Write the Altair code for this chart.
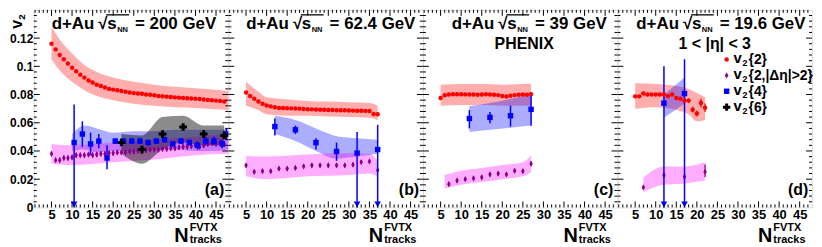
import altair as alt
import pandas as pd

FONT = "Liberation Sans"
W, H = 196, 199
XDOM = [0.7, 48.0]
YDOM = [0.0, 0.14]

# ---------------- (a) d+Au 200 GeV ----------------
a_red_n = [5, 6, 7, 8, 9, 10, 11, 12, 13, 14, 15, 16, 17, 18, 19, 20, 21, 22, 23, 24, 25, 26,
           27, 28, 29, 30, 31, 32, 33, 34, 35, 36, 37, 38, 39, 40, 41, 42, 43, 44, 45, 46, 47]
a_red_v = [0.116, 0.112, 0.108, 0.105, 0.102, 0.099, 0.0965, 0.094, 0.092, 0.090, 0.0885, 0.087,
           0.086, 0.085, 0.084, 0.0835, 0.083, 0.0825, 0.082, 0.0815, 0.081, 0.0808, 0.0805, 0.080,
           0.0798, 0.0795, 0.079, 0.0788, 0.0785, 0.0782, 0.078, 0.0778, 0.0776, 0.0774, 0.0772,
           0.077, 0.0768, 0.0765, 0.0762, 0.076, 0.0757, 0.0755, 0.075]
a_red_band_n = [5, 7, 10, 13, 16, 20, 25, 30, 35, 40, 48]
a_red_band_hi = [0.128, 0.119, 0.109, 0.101, 0.096, 0.092, 0.089, 0.087, 0.0855, 0.0845, 0.0825]
a_red_band_lo = [0.105, 0.097, 0.089, 0.083, 0.079, 0.076, 0.0735, 0.072, 0.071, 0.0705, 0.069]

a_mag_n = a_red_n
a_mag_v = [0.038, 0.0335, 0.0335, 0.035, 0.035, 0.0355, 0.037, 0.037, 0.037, 0.0375, 0.037,
           0.0375, 0.038, 0.038, 0.0385, 0.0385, 0.039, 0.039, 0.039, 0.0395, 0.0395, 0.040,
           0.040, 0.0405, 0.041, 0.041, 0.041, 0.0415, 0.0415, 0.042, 0.042, 0.0425, 0.043,
           0.043, 0.0435, 0.044, 0.043, 0.044, 0.045, 0.0455, 0.045, 0.046, 0.045]
a_mag_band_n = [5, 10, 20, 30, 40, 48]
a_mag_band_hi = [0.045, 0.044, 0.046, 0.048, 0.050, 0.052]
a_mag_band_lo = [0.031, 0.030, 0.032, 0.034, 0.037, 0.038]

a_blue_n = [10.5, 12.5, 14.5, 16.5, 18.5, 20.5, 22.5, 24.5, 26.5, 28.5, 30.5, 32.5, 34.5,
            36.5, 38.5, 40.5, 42.5, 44.5, 46.5, 47.5]
a_blue_v = [0.046, 0.052, 0.045, 0.047, 0.035, 0.047, 0.047, 0.047, 0.047, 0.046, 0.047,
            0.048, 0.045, 0.047, 0.046, 0.044, 0.047, 0.047, 0.045, 0.052]
a_blue_lo = [0.0, 0.043, 0.037, 0.042, 0.027, 0.045, 0.045, 0.045, 0.045, 0.044, 0.045,
             0.046, 0.043, 0.045, 0.044, 0.041, 0.044, 0.044, 0.042, 0.048]
a_blue_hi = [0.073, 0.061, 0.053, 0.052, 0.044, 0.049, 0.049, 0.049, 0.049, 0.048, 0.049,
             0.050, 0.047, 0.049, 0.048, 0.047, 0.050, 0.050, 0.048, 0.056]
a_blue_band_n = [10, 13, 16, 20, 25, 30, 35, 40, 45, 48]
a_blue_band_hi = [0.052, 0.058, 0.056, 0.053, 0.054, 0.054, 0.055, 0.055, 0.055, 0.056]
a_blue_band_lo = [0.040, 0.041, 0.039, 0.040, 0.040, 0.041, 0.041, 0.040, 0.040, 0.041]
a_blue_arrow = [10.5]

a_blk_n = [22, 27, 32, 37, 42, 47]
a_blk_v = [0.046, 0.041, 0.052, 0.057, 0.052, 0.051]
a_gray_band_hi = [0.052, 0.051, 0.064, 0.065, 0.058, 0.058]
a_gray_band_lo = [0.038, 0.031, 0.041, 0.046, 0.044, 0.044]

# ---------------- (b) d+Au 62.4 GeV ----------------
b_red_n = [5, 6, 7, 8, 9, 10, 11, 12, 13, 14, 15, 16, 17, 18, 19, 20, 21, 22, 23, 24, 25, 26,
           27, 28, 29, 30, 31, 32, 33, 34, 35, 36, 37]
b_red_v = [0.0814, 0.079, 0.077, 0.075, 0.0735, 0.0722, 0.0716, 0.071, 0.0705, 0.0704, 0.0703,
           0.0702, 0.0701, 0.070, 0.0698, 0.0696, 0.0695, 0.0694, 0.0693, 0.0692, 0.0691, 0.069,
           0.0689, 0.0688, 0.0688, 0.0687, 0.0686, 0.0685, 0.0685, 0.0684, 0.0683, 0.0662, 0.066]
b_red_band_n = [5, 8, 10, 15, 20, 25, 30, 35, 37]
b_red_band_hi = [0.089, 0.082, 0.078, 0.0765, 0.0755, 0.075, 0.0745, 0.074, 0.072]
b_red_band_lo = [0.072, 0.069, 0.066, 0.065, 0.065, 0.0645, 0.064, 0.0635, 0.062]

b_mag_n = [5, 7, 9, 11, 13, 15, 17, 19, 21, 23, 25, 27, 29, 31, 33, 35, 37]
b_mag_v = [0.0298, 0.0252, 0.0257, 0.0257, 0.0275, 0.0275, 0.028, 0.0291, 0.0298, 0.0298,
           0.0298, 0.0298, 0.0298, 0.0303, 0.0321, 0.0326, 0.0264]
b_mag_band_n = [5, 10, 20, 30, 35, 37]
b_mag_band_hi = [0.0365, 0.036, 0.0375, 0.0385, 0.038, 0.033]
b_mag_band_lo = [0.022, 0.020, 0.022, 0.023, 0.024, 0.022]

b_blue_n = [12, 17, 22, 27, 32, 37]
b_blue_v = [0.0573, 0.055, 0.0459, 0.0397, 0.0385, 0.041]
b_blue_lo = [0.051, 0.052, 0.041, 0.033, 0.0, 0.0]
b_blue_hi = [0.063, 0.058, 0.049, 0.046, 0.0535, 0.0585]
b_blue_band_n = [12, 17, 22, 27, 32, 37]
b_blue_band_hi = [0.065, 0.062, 0.056, 0.0505, 0.049, 0.048]
b_blue_band_lo = [0.052, 0.047, 0.040, 0.0345, 0.036, 0.038]
b_blue_arrow = [32, 37]

# ---------------- (c) d+Au 39 GeV ----------------
c_red_n = [5, 6, 7, 8, 9, 10, 11, 12, 13, 14, 15, 16, 17, 18, 19, 20, 21, 22, 23, 24, 25, 26, 27]
c_red_v = [0.0775, 0.0795, 0.080, 0.0802, 0.0802, 0.0802, 0.0801, 0.080, 0.080, 0.0799, 0.080,
           0.0802, 0.080, 0.0798, 0.0796, 0.079, 0.0786, 0.0792, 0.0796, 0.0798, 0.080, 0.0798,
           0.0803]
c_red_band_n = [5, 10, 15, 20, 25, 27]
c_red_band_hi = [0.087, 0.0875, 0.0875, 0.087, 0.0875, 0.0876]
c_red_band_lo = [0.072, 0.0725, 0.0725, 0.072, 0.072, 0.072]

c_mag_n = [7, 9, 11, 13, 15, 17, 19, 21, 23, 25, 27]
c_mag_v = [0.0165, 0.019, 0.020, 0.0206, 0.0213, 0.0234, 0.024, 0.0234, 0.0259, 0.0257, 0.031]
c_mag_band_n = [6, 10, 15, 20, 25, 27]
c_mag_band_hi = [0.023, 0.026, 0.028, 0.030, 0.032, 0.037]
c_mag_band_lo = [0.0135, 0.016, 0.018, 0.020, 0.022, 0.025]

c_blue_n = [12, 17, 22, 27]
c_blue_v = [0.063, 0.0638, 0.065, 0.0695]
c_blue_lo = [0.056, 0.0596, 0.0573, 0.0578]
c_blue_hi = [0.069, 0.0677, 0.0722, 0.080]
c_blue_band_n = [12, 17, 22, 27]
c_blue_band_hi = [0.0718, 0.074, 0.077, 0.080]
c_blue_band_lo = [0.0534, 0.055, 0.0565, 0.058]

# ---------------- (d) d+Au 19.6 GeV ----------------
d_red_n = [5, 6, 7, 8, 9, 10, 11, 12, 13, 14, 15, 16, 17, 18, 19, 20, 21, 22]
d_red_v = [0.0787, 0.0787, 0.0807, 0.080, 0.080, 0.080, 0.080, 0.080, 0.079, 0.080, 0.0775,
           0.077, 0.0757, 0.0757, 0.0693, 0.0665, 0.074, 0.0706]
d_red_err = [0.001, 0.001, 0.001, 0.001, 0.001, 0.001, 0.001, 0.001, 0.001, 0.001, 0.0012,
             0.0012, 0.0015, 0.0015, 0.002, 0.002, 0.003, 0.003]
d_red_band_n = [5, 10, 15, 18, 20, 22]
d_red_band_hi = [0.088, 0.0875, 0.086, 0.084, 0.081, 0.078]
d_red_band_lo = [0.070, 0.071, 0.069, 0.066, 0.061, 0.062]

d_mag_n = [7, 12, 17, 22]
d_mag_v = [0.0142, 0.0229, 0.0218, 0.0252]
d_mag_lo = [0.0132, 0.0214, 0.0203, 0.0215]
d_mag_hi = [0.0152, 0.0244, 0.0233, 0.0305]
d_mag_band_n = [7, 12, 17, 22]
d_mag_band_hi = [0.021, 0.029, 0.029, 0.032]
d_mag_band_lo = [0.011, 0.016, 0.017, 0.019]

d_blue_n = [12, 17]
d_blue_v = [0.0739, 0.0807]
d_blue_lo = [0.0, 0.0]
d_blue_hi = [0.100, 0.105]
d_blue_band_n = [12, 17]
d_blue_band_hi = [0.080, 0.092]
d_blue_band_lo = [0.0635, 0.0734]
d_blue_arrow = [12, 17]

energies = ["= 200 GeV", "= 62.4 GeV", "= 39 GeV", "= 19.6 GeV"]
panel_tags = ["(a)", "(b)", "(c)", "(d)"]
header_x0 = [18, 18, 29, 19]
legend_rest = ["{2}", "{2,|Δη|>2}", "{4}", "{6}"]

x_major = [5, 10, 15, 20, 25, 30, 35, 40, 45]
x_minor = [i for i in range(1, 48) if i % 5 != 0]
y_major = [0.02, 0.04, 0.06, 0.08, 0.10, 0.12]
y_minor = [round(0.004 * i, 3) for i in range(1, 35) if i % 5 != 0]

# ---------------- styles ----------------
RED = "#ff0000"
PURPLE = "#8b008b"
BLUE = "#0000ff"
DIAMOND = "M0,-1L0.55,0L0,1L-0.55,0Z"
ONE = pd.DataFrame({"k": [0]})

xscale = alt.Scale(domain=XDOM, nice=False, zero=False)
yscale = alt.Scale(domain=YDOM, nice=False, zero=False)
xaxis = alt.Axis(values=x_major, title=None, ticks=False, domain=False, grid=False,
                 labelFont=FONT, labelFontWeight="bold", labelFontSize=13, labelColor="black",
                 labelPadding=1, labelOverlap=False, labelFlush=False)
yaxis = alt.Axis(values=[0, 0.02, 0.04, 0.06, 0.08, 0.1, 0.12], format=".2~f", title=None,
                 ticks=False, domain=False, grid=False, labelFont=FONT, labelFontWeight="bold",
                 labelFontSize=12, labelColor="black", labelPadding=1, labelOverlap=False,
                 labelFlush=False)


def make_panel(i, series):
    ya = yaxis if i == 0 else None

    def X(f):
        return alt.X(f, type="quantitative", scale=xscale, axis=xaxis)

    def Y(f):
        return alt.Y(f, type="quantitative", scale=yscale, axis=ya)

    def band(n, lo, hi, color, op):
        df = pd.DataFrame({"n": n, "lo": lo, "hi": hi})
        return alt.Chart(df).mark_area(color=color, opacity=op, interpolate="monotone").encode(
            x=X("n"), y=Y("lo"), y2=alt.Y2("hi"))

    def errbar(n, lo, hi, color, sw=1.5):
        df = pd.DataFrame({"n": n, "lo": lo, "hi": hi})
        return alt.Chart(df).mark_rule(color=color, strokeWidth=sw).encode(
            x=X("n"), y=Y("lo"), y2=alt.Y2("hi"))

    def pts(n, v, shape, color, size):
        df = pd.DataFrame({"n": n, "v": v})
        return alt.Chart(df).mark_point(filled=True, shape=shape, color=color, size=size,
                                        opacity=1, strokeWidth=0).encode(x=X("n"), y=Y("v"))

    def txt(t, x, y, size=16, align="left", angle=0):
        return alt.Chart(ONE).mark_text(text=t, font=FONT, fontWeight="bold", fontSize=size,
                                        align=align, baseline="alphabetic", angle=angle,
                                        color="black").encode(x=alt.value(x), y=alt.value(y))

    def marker(shape, color, size, x, y):
        return alt.Chart(ONE).mark_point(filled=True, shape=shape, color=color, size=size,
                                         opacity=1, strokeWidth=0).encode(
            x=alt.value(x), y=alt.value(y))

    L = []
    s = series
    # systematic bands
    L.append(band(s["red_band_n"], s["red_band_lo"], s["red_band_hi"], RED, 0.32))
    if "blue_band_n" in s:
        L.append(band(s["blue_band_n"], s["blue_band_lo"], s["blue_band_hi"], BLUE, 0.32))
    L.append(band(s["mag_band_n"], s["mag_band_lo"], s["mag_band_hi"], "#ff00ff", 0.32))
    if "gray_band_n" in s:
        L.append(band(s["gray_band_n"], s["gray_band_lo"], s["gray_band_hi"], "#000000", 0.45))
    # v2{2,|deta|>2}
    L.append(errbar(s["mag_n"], s["mag_lo"], s["mag_hi"], PURPLE, 1.3))
    L.append(pts(s["mag_n"], s["mag_v"], DIAMOND, PURPLE, 40))
    # v2{4}
    if "blue_n" in s:
        L.append(errbar(s["blue_n"], s["blue_lo"], s["blue_hi"], BLUE, 1.5))
        L.append(pts(s["blue_n"], s["blue_v"], "square", BLUE, 30))
    if "blue_arrow" in s:
        adf = pd.DataFrame({"n": s["blue_arrow"], "v": [0.0] * len(s["blue_arrow"])})
        L.append(alt.Chart(adf).mark_point(filled=True, shape="triangle-down", color=BLUE,
                                           size=45, opacity=1, strokeWidth=0, yOffset=-3)
                 .encode(x=X("n"), y=Y("v")))
    # v2{6}
    if "blk_n" in s:
        L.append(pts(s["blk_n"], s["blk_v"], "cross", "black", 60))
    # v2{2}
    L.append(errbar(s["red_n"], s["red_lo"], s["red_hi"], RED, 1.3))
    L.append(pts(s["red_n"], s["red_v"], "circle", RED, 20))

    # inward ticks on all four sides
    xmaj = pd.DataFrame({"n": x_major})
    xmin = pd.DataFrame({"n": x_minor})
    ymaj = pd.DataFrame({"v": y_major})
    ymin = pd.DataFrame({"v": y_minor})
    for df, ln in ((xmaj, 6), (xmin, 3)):
        L.append(alt.Chart(df).mark_rule(color="black", strokeWidth=1).encode(
            x=X("n"), y=alt.value(H), y2=alt.value(H - ln)))
        L.append(alt.Chart(df).mark_rule(color="black", strokeWidth=1).encode(
            x=X("n"), y=alt.value(0), y2=alt.value(ln)))
    for df, ln in ((ymaj, 6), (ymin, 3)):
        L.append(alt.Chart(df).mark_rule(color="black", strokeWidth=1).encode(
            y=Y("v"), x=alt.value(0), x2=alt.value(ln)))
        L.append(alt.Chart(df).mark_rule(color="black", strokeWidth=1).encode(
            y=Y("v"), x=alt.value(W), x2=alt.value(W - ln)))

    # header: d+Au  sqrt(s_NN) = ...
    x0 = header_x0[i]
    L.append(txt("d+Au", x0, 19, size=17))
    L.append(txt("√", x0 + 47, 19, size=17))
    L.append(txt("s", x0 + 56, 19, size=17))
    L.append(txt("NN", x0 + 66, 22, size=7.5))
    L.append(alt.Chart(ONE).mark_rule(color="black", strokeWidth=1.3).encode(
        x=alt.value(x0 + 55), x2=alt.value(x0 + 78), y=alt.value(5)))
    L.append(txt(energies[i], x0 + 84, 19, size=17))

    # panel tag
    L.append(txt(panel_tags[i], W - 14, H - 13, align="center"))

    # x title N^FVTX_tracks
    L.append(txt("N", W - 40, H + 35, size=20, align="right"))
    L.append(txt("FVTX", W - 39, H + 24, size=11))
    L.append(txt("tracks", W - 39, H + 36, size=11))

    if i == 0:
        L.append(txt("v", -12, 19, size=16, angle=270))
        L.append(txt("2", -9, 10, size=10, angle=270))
    if i == 2:
        L.append(txt("PHENIX", 102, 39, align="center"))
    if i == 3:
        L.append(txt("1 < |η| < 3", 98, 39, align="center"))
        ly = [50, 66, 82, 98]
        L.append(marker("circle", RED, 20, 110, ly[0]))
        L.append(marker(DIAMOND, PURPLE, 40, 110, ly[1]))
        L.append(marker("square", BLUE, 30, 110, ly[2]))
        L.append(marker("cross", "black", 55, 110, ly[3]))
        for rest, yy in zip(legend_rest, ly):
            L.append(txt("v", 117, yy + 4, size=15))
            L.append(txt("2", 126, yy + 7, size=9))
            L.append(txt(rest, 132, yy + 5, size=14))

    return alt.layer(*L).properties(width=W, height=H)


def pm(v, e):
    return [x - e for x in v], [x + e for x in v]


a_red_lo, a_red_hi = pm(a_red_v, 0.0006)
a_mag_lo, a_mag_hi = pm(a_mag_v, 0.0018)
b_red_lo, b_red_hi = pm(b_red_v, 0.0006)
b_mag_lo, b_mag_hi = pm(b_mag_v, 0.0015)
c_red_lo, c_red_hi = pm(c_red_v, 0.0006)
c_mag_lo, c_mag_hi = pm(c_mag_v, 0.0015)
d_red_lo = [v - e for v, e in zip(d_red_v, d_red_err)]
d_red_hi = [v + e for v, e in zip(d_red_v, d_red_err)]

series_a = dict(red_n=a_red_n, red_v=a_red_v, red_lo=a_red_lo, red_hi=a_red_hi,
                red_band_n=a_red_band_n, red_band_lo=a_red_band_lo, red_band_hi=a_red_band_hi,
                mag_n=a_mag_n, mag_v=a_mag_v, mag_lo=a_mag_lo, mag_hi=a_mag_hi,
                mag_band_n=a_mag_band_n, mag_band_lo=a_mag_band_lo, mag_band_hi=a_mag_band_hi,
                blue_n=a_blue_n, blue_v=a_blue_v, blue_lo=a_blue_lo, blue_hi=a_blue_hi,
                blue_band_n=a_blue_band_n, blue_band_lo=a_blue_band_lo,
                blue_band_hi=a_blue_band_hi, blue_arrow=a_blue_arrow,
                blk_n=a_blk_n, blk_v=a_blk_v, gray_band_n=a_blk_n,
                gray_band_lo=a_gray_band_lo, gray_band_hi=a_gray_band_hi)
series_b = dict(red_n=b_red_n, red_v=b_red_v, red_lo=b_red_lo, red_hi=b_red_hi,
                red_band_n=b_red_band_n, red_band_lo=b_red_band_lo, red_band_hi=b_red_band_hi,
                mag_n=b_mag_n, mag_v=b_mag_v, mag_lo=b_mag_lo, mag_hi=b_mag_hi,
                mag_band_n=b_mag_band_n, mag_band_lo=b_mag_band_lo, mag_band_hi=b_mag_band_hi,
                blue_n=b_blue_n, blue_v=b_blue_v, blue_lo=b_blue_lo, blue_hi=b_blue_hi,
                blue_band_n=b_blue_band_n, blue_band_lo=b_blue_band_lo,
                blue_band_hi=b_blue_band_hi, blue_arrow=b_blue_arrow)
series_c = dict(red_n=c_red_n, red_v=c_red_v, red_lo=c_red_lo, red_hi=c_red_hi,
                red_band_n=c_red_band_n, red_band_lo=c_red_band_lo, red_band_hi=c_red_band_hi,
                mag_n=c_mag_n, mag_v=c_mag_v, mag_lo=c_mag_lo, mag_hi=c_mag_hi,
                mag_band_n=c_mag_band_n, mag_band_lo=c_mag_band_lo, mag_band_hi=c_mag_band_hi,
                blue_n=c_blue_n, blue_v=c_blue_v, blue_lo=c_blue_lo, blue_hi=c_blue_hi,
                blue_band_n=c_blue_band_n, blue_band_lo=c_blue_band_lo,
                blue_band_hi=c_blue_band_hi)
series_d = dict(red_n=d_red_n, red_v=d_red_v, red_lo=d_red_lo, red_hi=d_red_hi,
                red_band_n=d_red_band_n, red_band_lo=d_red_band_lo, red_band_hi=d_red_band_hi,
                mag_n=d_mag_n, mag_v=d_mag_v, mag_lo=d_mag_lo, mag_hi=d_mag_hi,
                mag_band_n=d_mag_band_n, mag_band_lo=d_mag_band_lo, mag_band_hi=d_mag_band_hi,
                blue_n=d_blue_n, blue_v=d_blue_v, blue_lo=d_blue_lo, blue_hi=d_blue_hi,
                blue_band_n=d_blue_band_n, blue_band_lo=d_blue_band_lo,
                blue_band_hi=d_blue_band_hi, blue_arrow=d_blue_arrow)

panels = [make_panel(i, s) for i, s in enumerate([series_a, series_b, series_c, series_d])]

chart = alt.hconcat(*panels, spacing=0, bounds="flush").properties(
    padding={"left": 0, "top": 0, "right": 0, "bottom": 0}
).configure_view(stroke="black", strokeWidth=1.5).configure(background="white")

chart.save("out.html", embed_options={"renderer": "svg", "actions": False})
